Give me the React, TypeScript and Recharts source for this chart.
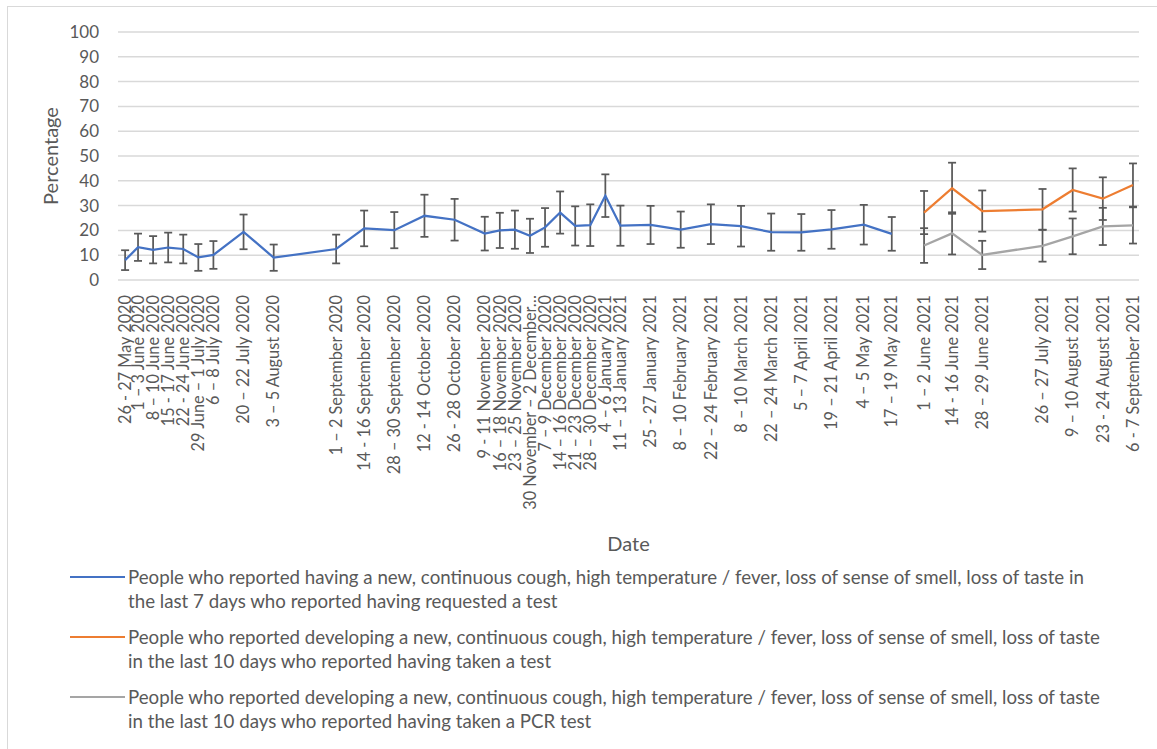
import React from "react";
import { LineChart, Line, XAxis, YAxis, CartesianGrid, ErrorBar } from "recharts";

// Day offsets from 26 May 2020 (start date of each survey period)
const DAYS = [0, 6, 13, 20, 27, 34, 41, 55, 69, 98, 111, 125, 139, 153, 167, 174, 181, 188, 195, 202, 209, 216, 223, 230, 244, 258, 272, 286, 300, 314, 328, 343, 356, 371, 384, 398, 426, 440, 454, 468];

const LABELS = [
  "26 - 27 May 2020", "1 – 3 June 2020", "8 – 10 June 2020", "15 - 17 June 2020", "22 - 24 June 2020",
  "29 June – 1 July 2020", "6 – 8 July 2020", "20 – 22 July 2020", "3 – 5 August 2020",
  "1 – 2 September 2020", "14 - 16 September 2020", "28 – 30 September 2020", "12 - 14 October 2020",
  "26 - 28 October 2020", "9 - 11 November 2020", "16 – 18 November 2020", "23 – 25 November 2020",
  "30 November – 2 December 2020", "7 – 9 December 2020", "14 – 16 December 2020", "21 – 23 December 2020",
  "28 – 30 December 2020", "4 – 6 January 2021", "11 – 13 January 2021", "25 - 27 January 2021",
  "8 – 10 February 2021", "22 – 24 February 2021", "8 – 10 March 2021", "22 – 24 March 2021",
  "5 – 7 April 2021", "19 – 21 April 2021", "4 – 5 May 2021", "17 – 19 May 2021",
  "1 – 2 June 2021", "14 - 16 June 2021", "28 – 29 June 2021", "26 – 27 July 2021",
  "9 – 10 August 2021", "23 - 24 August 2021", "6 - 7 September 2021",
];

const BLUE = [8.0, 13.2, 12.2, 13.1, 12.5, 9.1, 10.1, 19.4, 9.0, 12.5, 20.8, 20.1, 25.9, 24.3, 18.7, 20.0, 20.3, 17.8, 21.2, 27.2, 21.8, 22.1, 34.0, 21.9, 22.2, 20.3, 22.5, 21.7, 19.3, 19.2, 20.4, 22.3, 18.6];
const BLUE_ERR = [4.0, 5.5, 5.5, 6.0, 5.8, 5.4, 5.6, 7.0, 5.3, 5.8, 7.2, 7.3, 8.5, 8.4, 6.8, 7.1, 7.7, 6.9, 7.8, 8.5, 7.9, 8.4, 8.6, 8.1, 7.7, 7.3, 8.0, 8.2, 7.5, 7.4, 7.8, 8.0, 6.8];

const ORANGE = [27.2, 37.0, 27.8, 28.5, 36.3, 32.8, 38.3];
const ORANGE_ERR = [8.7, 10.3, 8.3, 8.2, 8.7, 8.6, 8.7];

const GRAY = [13.9, 18.8, 10.1, 13.8, 17.6, 21.6, 22.0];
const GRAY_ERR = [7.0, 8.5, 5.7, 6.4, 7.2, 7.5, 7.3];

const Y_TICKS = [0, 10, 20, 30, 40, 50, 60, 70, 80, 90, 100];

const SERIES = [
  { key: "blue", color: "#4472C4", lines: ["People who reported having a new, continuous cough, high temperature / fever, loss of sense of smell, loss of taste in", "the last 7 days who reported having requested a test"] },
  { key: "orange", color: "#ED7D31", lines: ["People who reported developing a new, continuous cough, high temperature / fever, loss of sense of smell, loss of taste", "in the last 10 days who reported having taken a test"] },
  { key: "gray", color: "#A5A5A5", lines: ["People who reported developing a new, continuous cough, high temperature / fever, loss of sense of smell, loss of taste", "in the last 10 days who reported having taken a PCR test"] },
];

const ORANGE_START = BLUE.length;

const data = DAYS.map((d, i) => ({
  day: d,
  label: LABELS[i],
  blue: i < BLUE.length ? BLUE[i] : null,
  blueErr: i < BLUE.length ? BLUE_ERR[i] : null,
  orange: i >= ORANGE_START ? ORANGE[i - ORANGE_START] : null,
  orangeErr: i >= ORANGE_START ? ORANGE_ERR[i - ORANGE_START] : null,
  gray: i >= ORANGE_START ? GRAY[i - ORANGE_START] : null,
  grayErr: i >= ORANGE_START ? GRAY_ERR[i - ORANGE_START] : null,
}));

const FONT = "Lato, 'Noto Sans', sans-serif";
const TEXT = "#595959";

const labelFor = (v: number) => {
  const idx = DAYS.indexOf(v);
  const s = idx >= 0 ? LABELS[idx] : String(v);
  return s.length > 25 ? s.slice(0, 24) + "…" : s;
};

const XTick = (props: any) => {
  const { x, y, payload } = props;
  return (
    <text
      transform={`translate(${x},${y}) rotate(-90)`}
      textAnchor="end"
      dy="0.35em"
      fontSize={16.3}
      fontFamily={FONT}
      fill={TEXT}
    >
      {labelFor(payload.value)}
    </text>
  );
};

export default function App() {
  return (
    <div style={{ position: "absolute", left: 0, top: 0, width: 1157, height: 749, overflow: "hidden", background: "#fff", fontFamily: FONT }}>
      <div style={{ position: "absolute", left: 7, top: 6, width: 1170, height: 780, border: "1px solid #d9d9d9" }} />
      <div style={{ position: "absolute", left: 0, top: 0 }}>
        <LineChart width={1157} height={560} data={data} margin={{ top: 32, right: 18, left: 0, bottom: 10 }}>
          <CartesianGrid vertical={false} stroke="#d9d9d9" strokeWidth={1.5} />
          <XAxis
            dataKey="day"
            type="number"
            domain={[-3.3, 470.8]}
            ticks={DAYS}
            interval={0}
            height={270}
            axisLine={false}
            tickLine={false}
            tickSize={0}
            tickMargin={15}
            tick={<XTick />}
            label={(p: any) => {
              const vb = p.viewBox || {};
              return (
                <text x={vb.x + vb.width / 2} y={vb.y + 263} textAnchor="middle" dominantBaseline="central" fontSize={20} fontFamily={FONT} fill={TEXT}>
                  Date
                </text>
              );
            }}
          />
          <YAxis
            type="number"
            domain={[0, 100]}
            ticks={Y_TICKS}
            interval={0}
            width={118}
            axisLine={false}
            tickLine={false}
            tickSize={6}
            tickMargin={13}
            tick={{ fontSize: 17, fontFamily: FONT, fill: TEXT }}
            label={(p: any) => {
              const vb = p.viewBox || {};
              const cx = vb.x + 50;
              const cy = vb.y + vb.height / 2;
              return (
                <text x={cx} y={cy} transform={`rotate(-90 ${cx} ${cy})`} textAnchor="middle" dominantBaseline="central" fontSize={20} fontFamily={FONT} fill={TEXT}>
                  Percentage
                </text>
              );
            }}
          />
          {SERIES.map((s) => (
            <Line
              key={s.key}
              type="linear"
              dataKey={s.key}
              stroke={s.color}
              strokeWidth={2.25}
              dot={false}
              activeDot={false}
              isAnimationActive={false}
              connectNulls={false}
            >
              <ErrorBar dataKey={s.key + "Err"} direction="y" width={4} stroke="#595959" strokeWidth={1.75} />
            </Line>
          ))}
        </LineChart>
      </div>
      {SERIES.map((s, i) => (
        <div key={s.key} style={{ position: "absolute", left: 70, top: 565 + i * 60, color: TEXT, fontSize: 18.7, lineHeight: "24px" }}>
          <div style={{ position: "absolute", left: 0, top: 11, width: 55, height: 2, background: s.color }} />
          <div style={{ position: "absolute", left: 58, top: 0, whiteSpace: "nowrap" }}>
            {s.lines.map((l, j) => (
              <div key={j}>{l}</div>
            ))}
          </div>
        </div>
      ))}
    </div>
  );
}
